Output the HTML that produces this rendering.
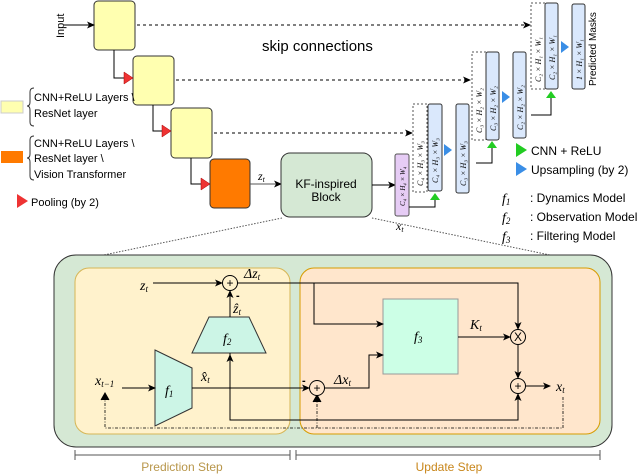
<!DOCTYPE html>
<html><head><meta charset="utf-8"><style>
body{margin:0;background:#fff}
svg{display:block;font-family:"Liberation Sans",sans-serif}
.m{font-family:"Liberation Serif",serif;font-style:italic}
</style></head><body>
<svg width="640" height="474" viewBox="0 0 640 474" xmlns="http://www.w3.org/2000/svg">
<defs>
<marker id="a" markerWidth="8" markerHeight="8" refX="7" refY="4" orient="auto" markerUnits="userSpaceOnUse"><path d="M0,0.5 L8,4 L0,7.5 L2,4 Z" fill="#000"/></marker>
</defs>
<!-- encoder -->
<rect x="94" y="1" width="41" height="49" rx="4" fill="#ffffb0" stroke="#333"/>
<rect x="133" y="56" width="41" height="49" rx="4" fill="#ffffb0" stroke="#333"/>
<rect x="171" y="108" width="41" height="50" rx="4" fill="#ffffb0" stroke="#333"/>
<rect x="210" y="159" width="40" height="49" rx="4" fill="#ff7a00" stroke="#333"/>
<text x="64" y="38" font-size="11" transform="rotate(-90 64 38)">Input</text>
<line x1="64" y1="25" x2="94" y2="25" stroke="#000" marker-end="url(#a)"/>
<polyline points="114,50 114,78 124,78" fill="none" stroke="#000"/>
<polygon points="124,72 133,78 124,84" fill="#e33" stroke="#a00" stroke-width=".5"/>
<polyline points="153,105 153,131 162,131" fill="none" stroke="#000"/>
<polygon points="162,125 171,131 162,137" fill="#e33" stroke="#a00" stroke-width=".5"/>
<polyline points="191,158 191,184 201,184" fill="none" stroke="#000"/>
<polygon points="201,178 210,184 201,190" fill="#e33" stroke="#a00" stroke-width=".5"/>
<!-- skip -->
<line x1="137" y1="25" x2="530" y2="25" stroke="#000" stroke-dasharray="3,3" marker-end="url(#a)"/>
<line x1="176" y1="80" x2="470" y2="80" stroke="#000" stroke-dasharray="3,3" marker-end="url(#a)"/>
<line x1="214" y1="133" x2="412" y2="133" stroke="#000" stroke-dasharray="3,3" marker-end="url(#a)"/>
<text x="262" y="51" font-size="15">skip connections</text>
<!-- legend -->
<rect x="1" y="101" width="22" height="12" fill="#ffffb0" stroke="#ccc"/>
<path d="M34,88 q-4,0 -4,4 v10 q0,4 -3,4 q3,0 3,4 v12 q0,4 4,4" fill="none" stroke="#333"/>
<text x="34" y="101" font-size="11">CNN+ReLU Layers \</text>
<text x="34" y="117" font-size="11">ResNet layer</text>
<rect x="1" y="151" width="22" height="12" fill="#ff7a00"/>
<path d="M34,136 q-4,0 -4,4 v14 q0,4 -3,4 q3,0 3,4 v14 q0,4 4,4" fill="none" stroke="#333"/>
<text x="34" y="147" font-size="11">CNN+ReLU Layers \</text>
<text x="34" y="162" font-size="11">ResNet layer \</text>
<text x="34" y="178" font-size="11">Vision Transformer</text>
<polygon points="17,194 28,201 17,208" fill="#e33"/>
<text x="31" y="206" font-size="11">Pooling (by 2)</text>
<!-- KF -->
<line x1="250" y1="184" x2="281" y2="184" stroke="#555" marker-end="url(#a)"/>
<text x="258" y="180" class="m" font-size="12">z<tspan font-size="8" dy="2">t</tspan></text>
<rect x="281" y="153" width="91" height="64" rx="9" fill="#d5e8d4" stroke="#333"/>
<text x="326" y="188" font-size="12" text-anchor="middle">KF-inspired</text>
<text x="326" y="201" font-size="12" text-anchor="middle">Block</text>
<line x1="372" y1="185" x2="395" y2="185" stroke="#000" marker-end="url(#a)"/>
<line x1="282" y1="218" x2="70" y2="262" stroke="#555" stroke-dasharray="1.5,1.5"/>
<line x1="372" y1="218" x2="598" y2="265" stroke="#555" stroke-dasharray="1.5,1.5"/>
<!-- decoder -->
<rect x="395" y="154" width="14" height="62" rx="2" fill="#e6ccf5" stroke="#555"/>
<text x="405" y="206" font-size="7" class="m" transform="rotate(-90 405 206)">C₄ × H₄ × W₄</text>
<text x="396" y="230" class="m" font-size="12">x<tspan font-size="8" dy="2">t</tspan></text>
<g font-size="8" class="m">
<rect x="413" y="104" width="14" height="88" fill="#fff" stroke="#555" stroke-dasharray="2,2"/>
<text x="423" y="186" transform="rotate(-90 423 186)">C₄ × H₃ × W₃</text>
<rect x="428" y="104" width="14" height="87" rx="2" fill="#dae8fc" stroke="#333"/>
<text x="438" y="183" transform="rotate(-90 438 183)">C₄ × H₃ × W₃</text>
<rect x="456" y="104" width="13" height="89" rx="2" fill="#dae8fc" stroke="#333"/>
<text x="466" y="186" transform="rotate(-90 466 186)">C₃ × H₃ × W₃</text>
<rect x="472" y="52" width="14" height="88" fill="#fff" stroke="#555" stroke-dasharray="2,2"/>
<text x="482" y="133" transform="rotate(-90 482 133)">C₃ × H₂ × W₂</text>
<rect x="486" y="52" width="13" height="88" rx="2" fill="#dae8fc" stroke="#333"/>
<text x="496" y="131" transform="rotate(-90 496 131)">C₃ × H₂ × W₂</text>
<rect x="513" y="52" width="13" height="86" rx="2" fill="#dae8fc" stroke="#333"/>
<text x="523" y="130" transform="rotate(-90 523 130)">C₂ × H₂ × W₂</text>
<rect x="531" y="3" width="14" height="86" fill="#fff" stroke="#555" stroke-dasharray="2,2"/>
<text x="541" y="82" transform="rotate(-90 541 82)">C₂ × H₁ × W₁</text>
<rect x="545" y="3" width="13" height="86" rx="2" fill="#dae8fc" stroke="#333"/>
<text x="555" y="80" transform="rotate(-90 555 80)">C₂ × H₁ × W₁</text>
<rect x="572" y="4" width="13" height="85" rx="2" fill="#dae8fc" stroke="#333"/>
<text x="582" y="80" transform="rotate(-90 582 80)">1 × H₁ × W₁</text>
</g>
<text x="596" y="86" font-size="10" transform="rotate(-90 596 86)">Predicted Masks</text>
<polygon points="444,144 452,150 444,156" fill="#3a8ee6"/>
<polygon points="502,91 510,97 502,103" fill="#3a8ee6"/>
<polygon points="561,41 569,47 561,53" fill="#3a8ee6"/>
<polyline points="409,207 435,207 435,200" fill="none" stroke="#000"/>
<polygon points="430,200 435,193 440,200" fill="#2c2"/>
<polyline points="476,163 492,163 492,148" fill="none" stroke="#000"/>
<polygon points="487,148 492,141 497,148" fill="#2c2"/>
<polyline points="531,115 551,115 551,98" fill="none" stroke="#000"/>
<polygon points="546,98 551,91 556,98" fill="#2c2"/>
<polygon points="516,143 527,150 516,157" fill="#2c2"/>
<text x="531" y="155" font-size="12">CNN + ReLU</text>
<polygon points="516,162 527,169 516,176" fill="#3a8ee6"/>
<text x="531" y="174" font-size="12">Upsampling (by 2)</text>
<g font-size="12"><text x="502" y="203" class="m" font-size="14">f<tspan font-size="9" dy="2">1</tspan></text><text x="530" y="202">: Dynamics Model</text>
<text x="502" y="222" class="m" font-size="14">f<tspan font-size="9" dy="2">2</tspan></text><text x="530" y="221">: Observation Model</text>
<text x="502" y="241" class="m" font-size="14">f<tspan font-size="9" dy="2">3</tspan></text><text x="530" y="240">: Filtering Model</text></g>
<!-- bottom -->
<rect x="54" y="255" width="558" height="192" rx="22" fill="#d5e8d4" stroke="#333"/>
<rect x="75" y="268" width="215" height="166" rx="14" fill="#fff2cc" stroke="#d6b656"/>
<rect x="300" y="268" width="300" height="166" rx="14" fill="#ffe6cc" stroke="#d79b00"/>
<g stroke="#555" fill="none"><path d="M75,450 v10 M75,455 H290 M290,450 v10 M296,450 v10 M296,455 H600 M600,450 v10"/></g>
<text x="182" y="471" font-size="12" fill="#b8964a" text-anchor="middle">Prediction Step</text>
<text x="449" y="471" font-size="12" fill="#c8861a" text-anchor="middle">Update Step</text>
<polygon points="155,350 192,368 192,408 155,426" fill="#ccf5e6" stroke="#333"/>
<polygon points="209,317 249,317 266,353 192,353" fill="#ccf5e6" stroke="#333"/>
<rect x="383" y="299" width="75" height="75" fill="#ccffe6" stroke="#999"/>
<g class="m" font-size="14">
<text x="165" y="395">f<tspan font-size="9" dy="2">1</tspan></text>
<text x="223" y="343">f<tspan font-size="9" dy="2">2</tspan></text>
<text x="414" y="341">f<tspan font-size="9" dy="2">3</tspan></text>
<text x="140" y="290">z<tspan font-size="9" dy="2">t</tspan></text>
<text x="244" y="278">Δz<tspan font-size="9" dy="2">t</tspan></text>
<text x="233" y="313">ẑ<tspan font-size="9" dy="2">t</tspan></text>
<text x="95" y="385">x<tspan font-size="9" dy="2">t−1</tspan></text>
<text x="201" y="381">x̂<tspan font-size="9" dy="2">t</tspan></text>
<text x="334" y="384">Δx<tspan font-size="9" dy="2">t</tspan></text>
<text x="470" y="329">K<tspan font-size="9" dy="2">t</tspan></text>
<text x="556" y="391">x<tspan font-size="9" dy="2">t</tspan></text>
</g>
<g stroke="#000" fill="none">
<line x1="153" y1="283" x2="222" y2="283" marker-end="url(#a)"/>
<line x1="230" y1="317" x2="230" y2="291" marker-end="url(#a)"/>
<polyline points="237,283 518,283 518,329" marker-end="url(#a)"/>
<polyline points="314,283 314,324 383,324" marker-end="url(#a)"/>
<line x1="122" y1="388" x2="155" y2="388" marker-end="url(#a)"/>
<line x1="192" y1="388" x2="309" y2="388" marker-end="url(#a)"/>
<polyline points="325,388 369,388 369,355 383,355" marker-end="url(#a)"/>
<line x1="458" y1="337" x2="510" y2="337" marker-end="url(#a)"/>
<line x1="518" y1="345" x2="518" y2="378" marker-end="url(#a)"/>
<line x1="526" y1="386" x2="550" y2="386" marker-end="url(#a)"/>
<polyline points="230,353 230,420 518,420 518,394" marker-end="url(#a)"/>
<line x1="230" y1="420" x2="230" y2="355" marker-end="url(#a)"/>
<g stroke-dasharray="3,1.5,1,1.5" stroke-width=".8">
<polyline points="563,397 563,428 105,428 105,396"/>
<line x1="317" y1="428" x2="317" y2="398"/>
</g>
<path d="M101,400 L105,393 L109,400" fill="#000"/>
<path d="M313,402 L317,395 L321,402" fill="#000"/>
<circle cx="230" cy="283" r="7.5" fill="#fff2cc"/>
<circle cx="317" cy="388" r="7.5" fill="#ffe6cc"/>
<circle cx="518" cy="337" r="7.5" fill="#ffe6cc"/>
<circle cx="518" cy="386" r="7.5" fill="#ffe6cc"/>
</g>
<g font-size="12" text-anchor="middle"><text x="230" y="287">+</text><text x="317" y="392">+</text><text x="518" y="341">X</text><text x="518" y="390">+</text></g>
<text x="236" y="299" font-size="11" font-weight="bold">-</text>
<text x="302" y="384" font-size="11" font-weight="bold">-</text>
</svg>
</body></html>
